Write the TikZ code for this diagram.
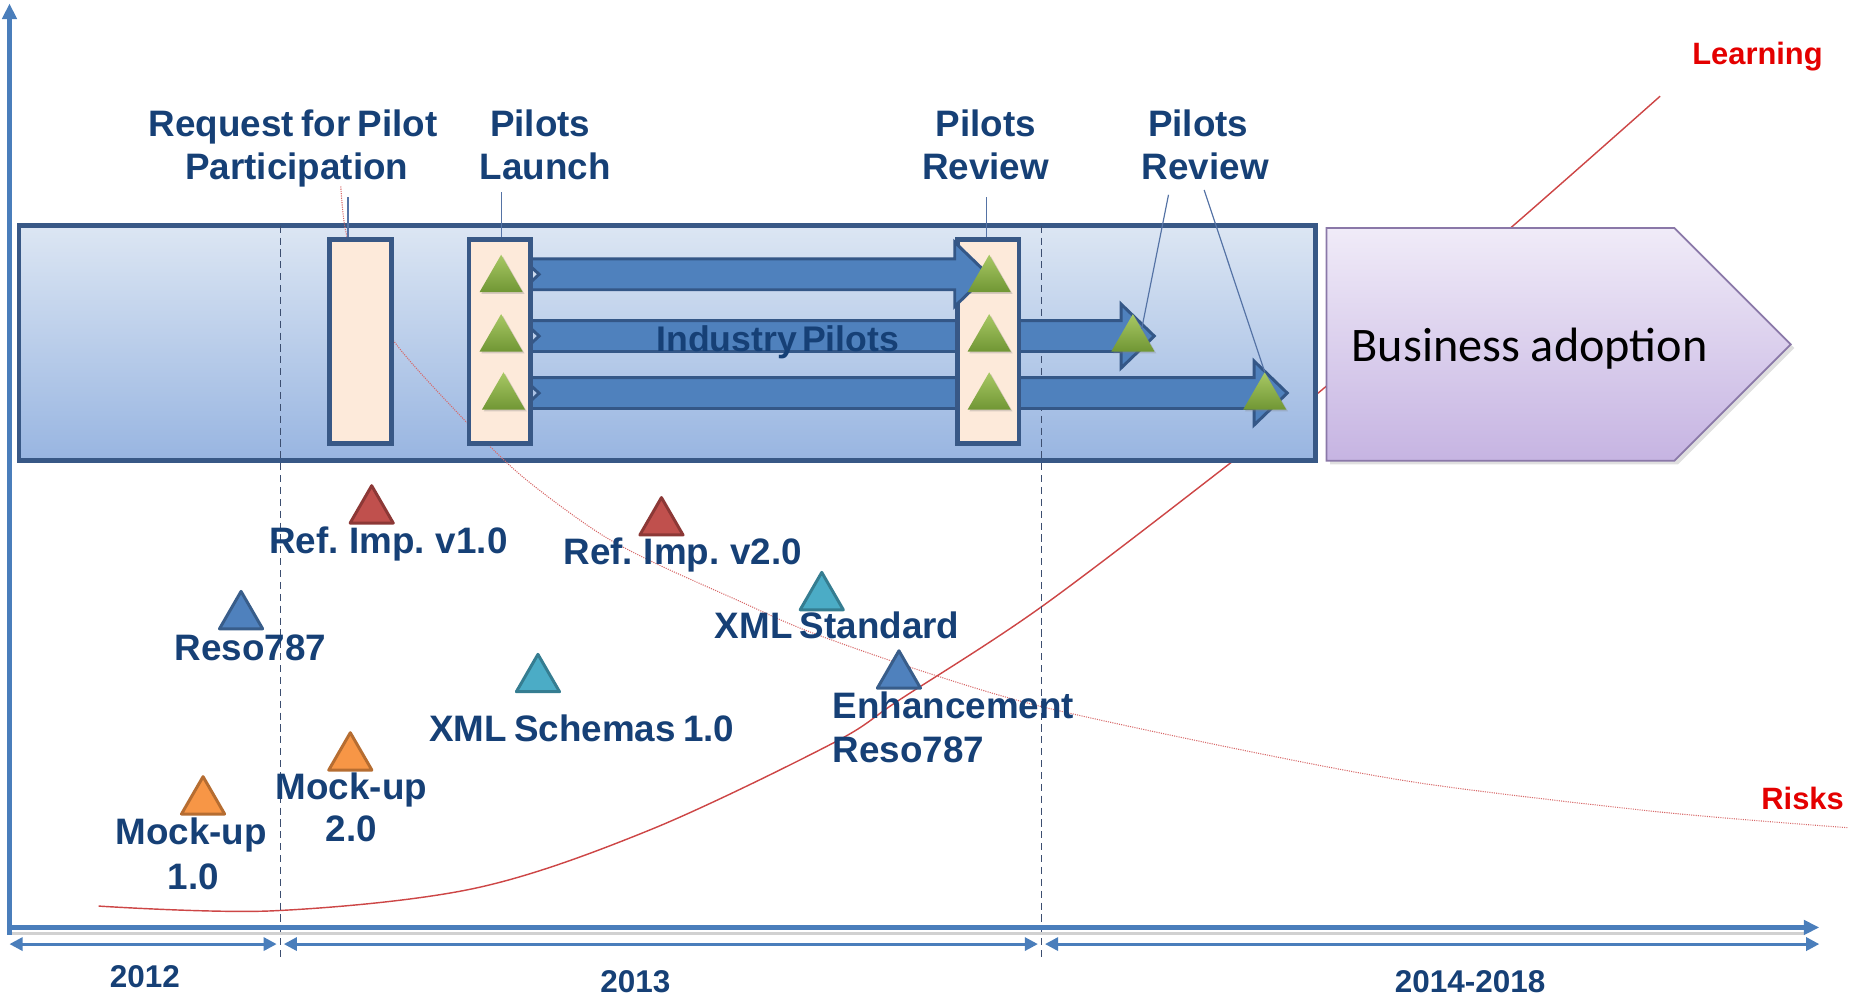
\documentclass[tikz,border=0pt]{standalone}
\usepackage{fontspec}
\setmainfont{Liberation Sans}
\newfontfamily\calfont{Carlito}
\usetikzlibrary{arrows.meta,shadows,calc,shapes.geometric}

\definecolor{axisblue}{RGB}{74,126,187}
\definecolor{inkblue}{RGB}{22,64,118}
\definecolor{frameblue}{RGB}{56,88,134}
\definecolor{boxtop}{RGB}{220,230,243}
\definecolor{boxbot}{RGB}{152,181,225}
\definecolor{peach}{RGB}{253,234,218}
\definecolor{barblue}{RGB}{79,129,189}
\definecolor{barline}{RGB}{52,87,135}
\definecolor{greentop}{RGB}{168,200,100}
\definecolor{greenbot}{RGB}{112,150,52}
\definecolor{purptop}{RGB}{240,235,248}
\definecolor{purpbot}{RGB}{198,180,226}
\definecolor{purpline}{RGB}{138,120,168}
\definecolor{curvered}{RGB}{205,70,70}
\definecolor{riskred}{RGB}{215,105,105}
\definecolor{lblred}{RGB}{228,0,0}
\definecolor{calloutblue}{RGB}{85,115,165}
\definecolor{dashblue}{RGB}{60,78,112}
\definecolor{mred}{RGB}{192,80,77}
\definecolor{mredd}{RGB}{140,56,54}
\definecolor{mblue}{RGB}{79,129,189}
\definecolor{mblued}{RGB}{56,93,138}
\definecolor{mteal}{RGB}{75,172,198}
\definecolor{mteald}{RGB}{53,125,145}
\definecolor{morange}{RGB}{247,150,70}
\definecolor{moranged}{RGB}{182,109,49}

% bold label fonts with tight word spacing
\newcommand\lblfont{\bfseries\fontsize{31}{36}\selectfont\spaceskip 0.2em plus 0.05em\relax}
\newcommand\barfont{\bfseries\fontsize{30}{36}\selectfont\spaceskip 0.15em\relax}

% one "industry pilot" bar: #1 = centre line, #2 = x of the arrow point
\newcommand\pilotbar[2]{%
  \filldraw[fill=barblue, draw=barline, line width=2.5pt, line join=miter]
    (440,#1-13) -- (#2-28,#1-13) -- (#2-28,#1-27) -- (#2,#1)
    -- (#2-28,#1+27) -- (#2-28,#1+13) -- (440,#1+13) -- (454,#1) -- cycle;}

\tikzset{
  lbl/.style={text=inkblue, font=\lblfont,
    inner sep=0pt, text height=22pt, text depth=0pt},
  yearlbl/.style={text=inkblue, font=\bfseries\fontsize{26.5}{30}\selectfont,
    inner sep=0pt, text height=19pt, text depth=0pt},
  redlbl/.style={text=lblred, font=\bfseries\fontsize{26}{30}\selectfont,
    inner sep=0pt, text height=18.6pt, text depth=0pt},
  band/.style={draw=frameblue, top color=boxtop, bottom color=boxbot,
    line width=4pt, inner sep=0pt},
  peachbox/.style={draw=frameblue, fill=peach, line width=4pt,
    minimum width=52pt, minimum height=172pt, inner sep=0pt},
  mile/.style={regular polygon, regular polygon sides=3, minimum size=42pt,
    inner sep=0pt, line width=2.5pt, line join=round},
  redmile/.style={mile, fill=mred, draw=mredd},
  bluemile/.style={mile, fill=mblue, draw=mblued},
  tealmile/.style={mile, fill=mteal, draw=mteald},
  orangemile/.style={mile, fill=morange, draw=moranged},
  greenmile/.style={regular polygon, regular polygon sides=3, minimum size=42pt,
    inner sep=0pt, top color=greentop, bottom color=greenbot,
    drop shadow={shadow xshift=1.5pt, shadow yshift=-1.5pt, opacity=0.3}},
  callout/.style={draw=calloutblue, line width=1pt},
  yeardash/.style={draw=dashblue, line width=1pt, dash pattern=on 6pt off 4pt},
  axisline/.style={draw=axisblue, line width=3.5pt},
  axhead/.style={-{Triangle[length=13pt,width=12pt]}},
  spanline/.style={draw=axisblue, line width=2.5pt,
    {Triangle[length=11pt,width=11pt]}-{Triangle[length=11pt,width=11pt]}},
  learn/.style={draw=curvered, line width=1.2pt},
  risk/.style={draw=riskred, line width=0.9pt, densely dotted},
}

\begin{document}
\begin{tikzpicture}[x=1pt,y=-1pt]
\useasboundingbox (0,0) rectangle (1568,838);

% learning curve, running behind the boxes
\draw[learn] plot[smooth, tension=0.55] coordinates {(83,763) (230,767) (400,748)
  (547,699) (701,626) (758,589) (877,511) (1036,390) (1110,331) (1272,192) (1398,81)};

% pilot band
\node[band, minimum width=1092pt, minimum height=198pt] (band) at (562,289) {};

% business adoption arrow
\filldraw[top color=purptop, bottom color=purpbot, draw=purpline, line width=1.5pt,
  drop shadow={shadow xshift=3pt, shadow yshift=-3pt, opacity=0.25}]
  (1117,192) -- (1410,192) -- (1508,290) -- (1410,388) -- (1117,388) -- cycle;
\node[anchor=west, inner sep=0pt, font=\calfont\fontsize{40.6}{48}\selectfont,
  text height=26pt, text depth=0pt] (adopt) at (1138,291) {Business adoption};

% year boundaries
\draw[yeardash] (236,190) -- (236,808);
\draw[yeardash] (877,190) -- (877,808);

% risk curve
\draw[risk] plot[smooth, tension=0.5] coordinates {(287,157) (291,194) (305,240)
  (333,289) (380,342) (436,398) (500,446) (547,472) (620,505) (679,531) (773,564)
  (877,595) (1053,633) (1200,660) (1400,684) (1556,697)};

% pilots running past the review
\pilotbar{283}{972}
\pilotbar{331}{1084}

% milestone boxes
\node[peachbox] (revbox) at (832,287.5) {};
\pilotbar{231}{832}
\node[peachbox] (reqbox) at (303.5,287.5) {};
\node[peachbox] (lchbox) at (421,287.5) {};

% green milestones
\node[greenmile] (gL1) at (422,235.5) {};
\node[greenmile] (gL2) at (422,285.5) {};
\node[greenmile] (gL3) at (424,334.5) {};
\node[greenmile] (gR1) at (833,235.5) {};
\node[greenmile] (gR2) at (833,285.5) {};
\node[greenmile] (gR3) at (833,334.5) {};
\node[greenmile] (gE2) at (954,285.5) {};
\node[greenmile] (gE3) at (1065,334.5) {};

\node[lbl, font=\barfont, text height=21.5pt] (ind) at (655,285) {Industry Pilots};

% headings
\node[lbl] (req1) at (247,104) {Request for Pilot};
\node[lbl] (req2) at (250,140) {Participation};
\node[lbl] (lch1) at (455,104) {Pilots};
\node[lbl] (lch2) at (459,140) {Launch};
\node[lbl] (rev1) at (830,104) {Pilots};
\node[lbl] (rev2) at (830,140) {Review};
\node[lbl] (rvb1) at (1009,104) {Pilots};
\node[lbl] (rvb2) at (1015,140) {Review};

% callout lines
\coordinate (reqc) at (293,166);
\coordinate (lchc) at (422,162);
\coordinate (revc) at (831,166);
\coordinate (rvbl) at (984,164);
\coordinate (rvbr) at (1014,160);
\draw[callout] (reqc) -- (reqc |- reqbox.north);
\draw[callout] (lchc) -- (lchc |- lchbox.north);
\draw[callout] (revc) -- (revc |- revbox.north);
\draw[callout] (rvbl) -- ($(gE2.corner 1)!0.4!(gE2.corner 3)$);
\draw[callout] (rvbr) -- (gE3.corner 1);

% curve labels
\node[redlbl] (learning) at (1480,45) {Learning};
\node[redlbl] (risks) at (1518,672) {Risks};

% axes
\draw[line width=3pt, black!18] (10,786) -- (1520,786);
\draw[axisline, axhead] (8,787) -- (8,3);
\draw[axisline, axhead, line width=4pt] (6,781) -- (1532,781);
\draw[spanline] (8,795) -- (233,795);
\draw[spanline] (239,795) -- (874,795);
\draw[spanline] (880,795) -- (1532,795);

\node[yearlbl] (y12) at (122,822) {2012};
\node[yearlbl] (y13) at (535,826) {2013};
\node[yearlbl] (y14) at (1238,826) {2014-2018};

% deliverables
\node[redmile] (tRef1) at (313,430) {};
\node[redmile] (tRef2) at (557,440) {};
\node[bluemile] (tReso) at (203,519) {};
\node[tealmile] (tXstd) at (692,503) {};
\node[tealmile] (tXsch) at (453,572) {};
\node[bluemile] (tEnh) at (757,569) {};
\node[orangemile] (tMock2) at (295,638) {};
\node[orangemile] (tMock1) at (171,675) {};

\node[lbl] (lRef1) at (327,455) {Ref. Imp. v1.0};
\node[lbl] (lRef2) at (575,464) {Ref. Imp. v2.0};
\node[lbl] (lReso) at (211,545) {Reso787};
\node[lbl] (lXstd) at (705,527) {XML Standard};
\node[lbl] (lXsch) at (490,613) {XML Schemas 1.0};
\node[lbl, anchor=west] (lEnh1) at (701,594) {Enhancement};
\node[lbl, anchor=west] (lEnh2) at (701,631) {Reso787};
\node[lbl] (lMk2a) at (296,662) {Mock-up};
\node[lbl] (lMk2b) at (296,698) {2.0};
\node[lbl] (lMk1a) at (161,700) {Mock-up};
\node[lbl] (lMk1b) at (163,738) {1.0};
\end{tikzpicture}
\end{document}
